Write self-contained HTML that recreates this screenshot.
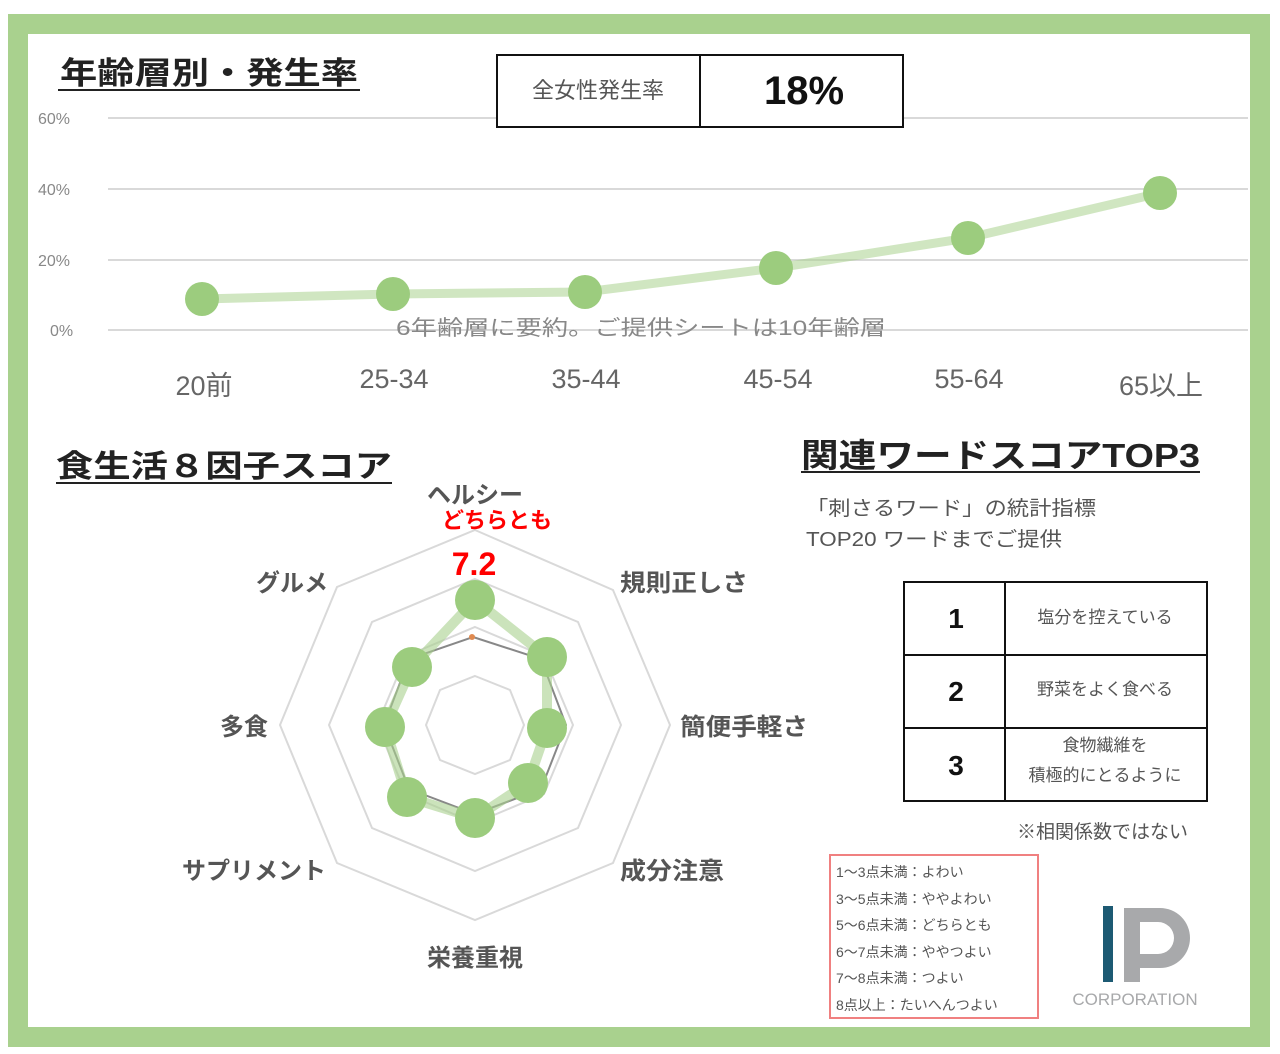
<!DOCTYPE html>
<html><head><meta charset="utf-8"><style>
html,body{margin:0;padding:0;background:#fff;}
svg{display:block;font-family:"Liberation Sans","Noto Sans CJK JP",sans-serif;}
</style></head><body>
<svg width="1280" height="1054" viewBox="0 0 1280 1054" xmlns="http://www.w3.org/2000/svg">
<rect x="0" y="0" width="1280" height="1054" fill="#fff"/>
<rect x="18" y="24" width="1242" height="1013" fill="none" stroke="#a9d18e" stroke-width="20"/>

<!-- Title 1 -->
<text x="60" y="84" font-size="31" font-weight="bold" fill="#222" textLength="298" lengthAdjust="spacingAndGlyphs">年齢層別・発生率</text>
<line x1="58" y1="90" x2="360" y2="90" stroke="#222" stroke-width="2"/>

<!-- grid -->
<g stroke="#d9d9d9" stroke-width="2">
<line x1="108" y1="118" x2="1248" y2="118"/>
<line x1="108" y1="189" x2="1248" y2="189"/>
<line x1="108" y1="260" x2="1248" y2="260"/>
<line x1="108" y1="330" x2="1248" y2="330"/>
</g>
<g font-size="16" fill="#888">
<text x="38" y="124">60%</text><text x="38" y="195">40%</text><text x="38" y="266">20%</text><text x="50" y="336">0%</text>
</g>

<!-- box -->
<rect x="497" y="55" width="406" height="72" fill="#fff" stroke="#111" stroke-width="2"/>
<line x1="700" y1="55" x2="700" y2="127" stroke="#111" stroke-width="2"/>
<text x="598" y="98" font-size="22" fill="#555" text-anchor="middle">全女性発生率</text>
<text x="804" y="104" font-size="40" font-weight="bold" fill="#111" text-anchor="middle">18%</text>

<polyline points="202,299 393,294 585,292 776,268 968,238 1160,193" fill="none" stroke="#a9d18e" stroke-opacity="0.55" stroke-width="9"/>
<g fill="#9ccc7e">
<circle cx="202" cy="299" r="17"/><circle cx="393" cy="294" r="17"/><circle cx="585" cy="292" r="17"/>
<circle cx="776" cy="268" r="17"/><circle cx="968" cy="238" r="17"/><circle cx="1160" cy="193" r="17"/>
</g>
<text x="641" y="335" font-size="21" fill="#888" text-anchor="middle" textLength="490" lengthAdjust="spacingAndGlyphs">6年齢層に要約。ご提供シートは10年齢層</text>
<g font-size="27" fill="#666" text-anchor="middle">
<text x="204" y="395">20前</text><text x="394" y="388">25-34</text><text x="586" y="388">35-44</text>
<text x="778" y="388">45-54</text><text x="969" y="388">55-64</text><text x="1161" y="395">65以上</text>
</g>

<!-- Title 2 -->
<text x="56" y="477" font-size="31" font-weight="bold" fill="#222" textLength="336" lengthAdjust="spacingAndGlyphs">食生活８因子スコア</text>
<line x1="56" y1="483" x2="392" y2="483" stroke="#222" stroke-width="2"/>

<!-- radar -->
<g fill="none" stroke="#d9d9d9" stroke-width="2">
<polygon points="475,530 613,590 670,725 613,863 475,920 337,863 280,725 337,587"/>
<polygon points="475,579 578,622 621,725 578,828 475,871 372,828 329,725 372,622"/>
<polygon points="475,627 544,656 573,725 544,794 475,823 406,794 377,725 406,656"/>
<polygon points="475,676 510,690 524,725 510,760 475,774 440,760 426,725 440,690"/>
</g>
<polygon points="473,637 541,659 566,725 541,789 475,814 409,789 384,725 409,659" fill="none" stroke="#888" stroke-width="2"/>
<circle cx="472" cy="637" r="3" fill="#e08a50"/>
<polygon points="475,600 547,657 547,728 528,783 475,818 407,797 385,727 412,667" fill="none" stroke="#a9d18e" stroke-opacity="0.6" stroke-width="10"/>
<g fill="#9ccc7e">
<circle cx="475" cy="600" r="20"/><circle cx="547" cy="657" r="20"/><circle cx="547" cy="728" r="20"/><circle cx="528" cy="783" r="20"/>
<circle cx="475" cy="818" r="20"/><circle cx="407" cy="797" r="20"/><circle cx="385" cy="727" r="20"/><circle cx="412" cy="667" r="20"/>
</g>
<g font-size="24" font-weight="bold" fill="#555">
<text x="475" y="503" text-anchor="middle">ヘルシー</text>
<text x="620" y="591" textLength="128" lengthAdjust="spacingAndGlyphs">規則正しさ</text>
<text x="680" y="735" textLength="128" lengthAdjust="spacingAndGlyphs">簡便手軽さ</text>
<text x="620" y="879" textLength="104" lengthAdjust="spacingAndGlyphs">成分注意</text>
<text x="475" y="966" text-anchor="middle">栄養重視</text>
<text x="326" y="879" text-anchor="end">サプリメント</text>
<text x="268" y="735" text-anchor="end">多食</text>
<text x="328" y="591" text-anchor="end">グルメ</text>
</g>
<text x="497" y="528" font-size="22" font-weight="bold" fill="#ff0000" text-anchor="middle">どちらとも</text>
<text x="474" y="575" font-size="32" font-weight="bold" fill="#ff0000" text-anchor="middle">7.2</text>

<!-- Title 3 -->
<text x="801" y="467" font-size="33" font-weight="bold" fill="#222" textLength="399" lengthAdjust="spacingAndGlyphs">関連ワードスコアTOP3</text>
<line x1="801" y1="472" x2="1200" y2="472" stroke="#222" stroke-width="2"/>
<text x="806" y="515" font-size="20" fill="#555" textLength="290" lengthAdjust="spacingAndGlyphs">「刺さるワード」の統計指標</text>
<text x="806" y="546" font-size="20" fill="#555" textLength="256" lengthAdjust="spacingAndGlyphs">TOP20 ワードまでご提供</text>

<g stroke="#111" stroke-width="2" fill="none">
<rect x="904" y="582" width="303" height="219"/>
<line x1="904" y1="655" x2="1207" y2="655"/>
<line x1="904" y1="728" x2="1207" y2="728"/>
<line x1="1005" y1="582" x2="1005" y2="801"/>
</g>
<g font-size="28" font-weight="bold" fill="#111" text-anchor="middle">
<text x="956" y="628">1</text><text x="956" y="701">2</text><text x="956" y="775">3</text>
</g>
<g font-size="17" fill="#555" text-anchor="middle">
<text x="1105" y="623">塩分を控えている</text>
<text x="1105" y="695">野菜をよく食べる</text>
<text x="1105" y="751">食物繊維を</text>
<text x="1105" y="781">積極的にとるように</text>
</g>
<text x="1188" y="838" font-size="19" fill="#555" text-anchor="end">※相関係数ではない</text>

<rect x="830" y="855" width="208" height="163" fill="none" stroke="#f08080" stroke-width="2"/>
<g font-size="14" fill="#555">
<text x="836" y="877">1～3点未満：よわい</text>
<text x="836" y="904">3～5点未満：ややよわい</text>
<text x="836" y="930">5～6点未満：どちらとも</text>
<text x="836" y="957">6～7点未満：ややつよい</text>
<text x="836" y="983">7～8点未満：つよい</text>
<text x="836" y="1010">8点以上：たいへんつよい</text>
</g>

<!-- logo -->
<rect x="1103" y="906" width="10" height="76" fill="#1d5a73"/>
<path d="M1124 908 H1160 A30 30 0 0 1 1160 968 H1140 V982 H1124 Z M1140 922 V954 H1158 A16 16 0 0 0 1158 922 Z" fill="#a8a9ab" fill-rule="evenodd"/>
<text x="1135" y="1005" font-size="17" fill="#a8a9ab" text-anchor="middle">CORPORATION</text>
</svg>
</body></html>
